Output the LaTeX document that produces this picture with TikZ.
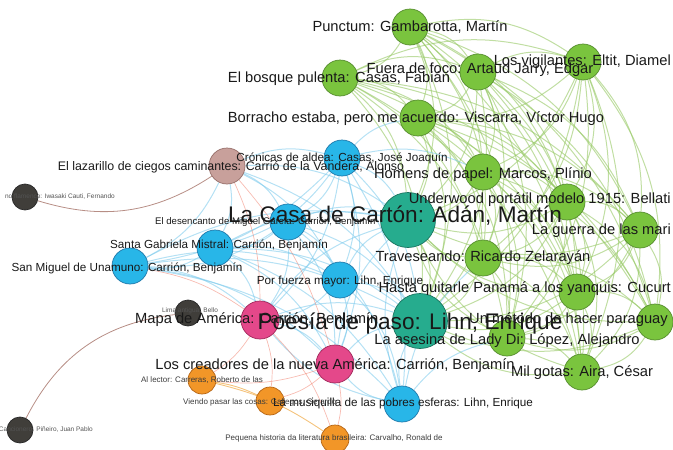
\documentclass[tikz,border=0pt]{standalone}
\usepackage{fontspec}
\setmainfont{Liberation Sans}
\pgfdeclarelayer{bg}
\pgfdeclarelayer{fg}
\pgfsetlayers{bg,main,fg}
\definecolor{gfill}{RGB}{122,196,62}
\definecolor{gdraw}{RGB}{85,140,45}
\definecolor{tfill}{RGB}{38,172,142}
\definecolor{tdraw}{RGB}{25,115,95}
\definecolor{bfill}{RGB}{40,182,232}
\definecolor{bdraw}{RGB}{30,120,170}
\definecolor{pfill}{RGB}{228,72,138}
\definecolor{pdraw}{RGB}{160,40,90}
\definecolor{rfill}{RGB}{200,160,155}
\definecolor{rdraw}{RGB}{150,110,105}
\definecolor{dfill}{RGB}{64,62,58}
\definecolor{ddraw}{RGB}{40,40,40}
\definecolor{ofill}{RGB}{242,150,40}
\definecolor{odraw}{RGB}{180,100,20}
\definecolor{gedge}{RGB}{150,200,100}
\definecolor{bedge}{RGB}{120,200,235}
\definecolor{redge}{RGB}{240,120,100}
\definecolor{oedge}{RGB}{240,170,70}
\definecolor{dedge}{RGB}{175,130,120}
\definecolor{txt}{RGB}{25,25,25}
\tikzset{
  vtx/.style={circle, inner sep=0pt, line width=0.7pt},
  gn/.style={vtx, fill=gfill, draw=gdraw, minimum size=36pt},
  tn/.style={vtx, fill=tfill, draw=tdraw, minimum size=55pt},
  bn/.style={vtx, fill=bfill, draw=bdraw, minimum size=36pt},
  pn/.style={vtx, fill=pfill, draw=pdraw, minimum size=38pt},
  rn/.style={vtx, fill=rfill, draw=rdraw, minimum size=36pt},
  dn/.style={vtx, fill=dfill, draw=ddraw, minimum size=26pt},
  on/.style={vtx, fill=ofill, draw=odraw, minimum size=28pt},
  lab/.style={inner sep=0pt, text=txt, font=\fontsize{14.7}{15}\selectfont},
  labm/.style={inner sep=0pt, text=txt, font=\fontsize{11.7}{12}\selectfont},
  labb/.style={inner sep=0pt, text=txt, font=\fontsize{22.6}{23}\selectfont},
  labs/.style={inner sep=0pt, text=txt!85, font=\fontsize{8}{9}\selectfont},
  labt/.style={inner sep=0pt, text=txt!75, font=\fontsize{6.5}{7}\selectfont},
  ge/.style={draw=gedge, opacity=0.6, line width=1pt},
  be/.style={draw=bedge, opacity=0.55, line width=1pt},
  re/.style={draw=redge, opacity=0.5, line width=0.7pt},
  oe/.style={draw=oedge, opacity=0.7, line width=0.9pt},
  de/.style={draw=dedge, opacity=0.9, line width=0.8pt},
}
\begin{document}
\begin{tikzpicture}[x=1pt,y=-1pt]
\useasboundingbox (0,0) rectangle (673,450);
\clip (0,0) rectangle (673,450);
% green nodes
\node[gn] (g1) at (410,27) {};
\node[gn] (g2) at (340,78) {};
\node[gn] (g3) at (478,72) {};
\node[gn] (g4) at (583,62) {};
\node[gn] (g5) at (418,118) {};
\node[gn] (g6) at (483,172) {};
\node[gn] (g7) at (567,202) {};
\node[gn] (g8) at (640,230) {};
\node[gn] (g9) at (483,258) {};
\node[gn] (g10) at (577,292) {};
\node[gn] (g11) at (655,322) {};
\node[gn] (g12) at (507,338) {};
\node[gn] (g13) at (582,372) {};
% teal
\node[tn] (g14) at (408,220) {};
\node[tn] (g15) at (420,321) {};
% blue
\node[bn] (b1) at (342,158) {};
\node[bn] (b2) at (288,222) {};
\node[bn] (b3) at (215,248) {};
\node[bn] (b4) at (130,266) {};
\node[bn] (b5) at (340,280) {};
\node[bn] (b6) at (402,404) {};
% pink
\node[pn] (p1) at (260,320) {};
\node[pn] (p2) at (335,364) {};
% rosy
\node[rn] (r1) at (227,166) {};
% dark
\node[dn] (d1) at (25,197) {};
\node[dn] (d2) at (188,313) {};
\node[dn] (d3) at (20,430) {};
% orange
\node[on] (o1) at (202,380) {};
\node[on] (o2) at (270,401) {};
\node[on] (o3) at (335,439) {};

\begin{pgfonlayer}{bg}
% green clique
\foreach \i in {1,...,15}{
  \foreach \j in {1,...,15}{
    \ifnum\j>\i
      \draw[ge] (g\i) to[bend left=22] (g\j);
    \fi
  }
}
% blue cluster
\foreach \a/\b in {b1/b2,b1/b3,b1/b4,b1/b5,b1/b6,b1/g14,b1/g15,b1/p1,b1/p2,
  b2/b3,b2/b4,b2/b5,b2/b6,b2/g14,b2/g15,b2/p1,b2/p2,
  b3/b4,b3/b5,b3/b6,b3/g14,b3/g15,b3/p1,b3/p2,
  b4/b5,b4/b6,b4/g14,b4/g15,b4/p1,b4/p2,
  b5/b6,b5/g14,b5/g15,b5/p1,b5/p2,
  b6/g14,b6/g15,b6/p1,b6/p2,
  r1/b1,r1/b2,r1/b3,r1/b4,r1/g14,r1/g15,r1/b5,
  p1/g14,p1/g15,p2/g14,p2/g15,p1/p2,
  b1/g6,b1/g5,b6/g12,b6/g9}{
  \draw[be] (\a) to[bend left=18] (\b);
}
% red edges
\foreach \a/\b in {r1/p1,r1/p2,p1/o1,p1/o2,p2/o1,p2/o2,p2/o3,p1/o3,b4/p1}{
  \draw[re] (\a) to[bend left=12] (\b);
}
\draw[oe] (o1) to[bend left=10] (o3);
\draw[oe] (o1) to[bend left=8] (o2);
% dark edges
\draw[de] (d1) to[bend right=25] (r1);
\draw[de] (d3) to[bend left=28] (d2);
\end{pgfonlayer}

\begin{pgfonlayer}{fg}
\node[lab] (l1) at (410,27) {Punctum: Gambarotta, Martín};
\node[lab] (l2) at (339,79) {El bosque pulenta: Casas, Fabián};
\node[lab] (l3) at (480,70) {Fuera de foco: Artaud Jarry, Edgar};
\node[lab, anchor=east] (l4) at (671,62) {Los vigilantes: Eltit, Diamel};
\node[lab] (l5) at (416,119) {Borracho estaba, pero me acuerdo: Viscarra, Víctor Hugo};
\node[lab] (l6) at (483,175) {Homens de papel: Marcos, Plínio};
\node[lab, anchor=east] (l7) at (671,200) {Underwood portátil modelo 1915: Bellati};
\node[lab, anchor=east] (l8) at (671,231) {La guerra de las mari};
\node[lab] (l9) at (483,258) {Traveseando: Ricardo Zelarayán};
\node[lab, anchor=east] (l10) at (671,289) {Hasta quitarle Panamá a los yanquis: Cucurt};
\node[lab, anchor=east] (l11) at (668,320) {Un método de hacer paraguay};
\node[lab] (l12) at (507,341) {La asesina de Lady Di: López, Alejandro};
\node[lab] (l13) at (582,373) {Mil gotas: Aira, César};
\node[labm, font=\fontsize{12.4}{13}\selectfont] (lr1) at (231,167) {El lazarillo de ciegos caminantes: Carrió de la Vandera, Alonso};
\node[labm] (lb1) at (342,158) {Crónicas de aldea: Casas, José Joaquín};
\node[labm, font=\fontsize{9.6}{10}\selectfont, anchor=west] (lb2) at (155,222) {El desencanto de Miguel García: Carrión, Benjamín};
\node[labm] (lb3) at (219,245) {Santa Gabriela Mistral: Carrión, Benjamín};
\node[labm] (lb4) at (127,268) {San Miguel de Unamuno: Carrión, Benjamín};
\node[labm] (lb5) at (340,281) {Por fuerza mayor: Lihn, Enrique};
\node[labm] (lb6) at (403,403) {La musiquilla de las pobres esferas: Lihn, Enrique};
\node[labt] (ld2) at (190,311) {Lima antigua: Bello};
\node[lab, anchor=west] (lp1) at (135,320) {Mapa de América: Carrión, Benjamín};
\node[lab] (lp2) at (335,366) {Los creadores de la nueva América: Carrión, Benjamín};
\node[labb] (l14) at (395,216) {La Casa de Cartón: Adán, Martín};
\node[labb] (l15) at (410,324) {Poesía de paso: Lihn, Enrique};
\node[labt, anchor=east] (ld1) at (115,197) {no flamenco: Iwasaki Cauti, Fernando};
\node[labt, anchor=east] (ld3) at (93,430) {Cancionero: Piñeiro, Juan Pablo};
\node[labs] (lo1) at (202,380) {Al lector: Carreras, Roberto de las};
\node[labs, anchor=west] (lo2) at (183,402) {Viendo pasar las cosas: Gallegos, Gerardo};
\node[labs] (lo3) at (334,438) {Pequena historia da literatura brasileira: Carvalho, Ronald de};
\end{pgfonlayer}
\end{tikzpicture}
\end{document}
